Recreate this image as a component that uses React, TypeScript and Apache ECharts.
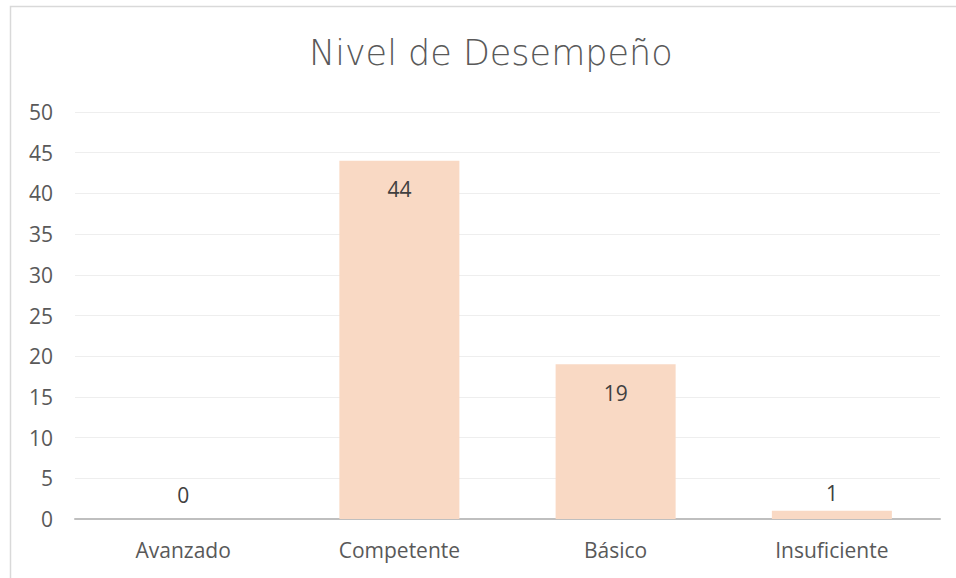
import React, { useEffect, useRef } from "react";
import * as echarts from "echarts";

const categories = ["Avanzado", "Competente", "Básico", "Insuficiente"];
const values = [0, 44, 19, 1];
const yTicks = { min: 0, max: 50, interval: 5 };

export default function App() {
  const ref = useRef<HTMLDivElement>(null);
  useEffect(() => {
    const chart = echarts.init(ref.current!, null, { renderer: "svg" });
    const font = "'Open Sans', 'Noto Sans', sans-serif";
    chart.setOption({
      animation: false,
      backgroundColor: "#ffffff",
      title: {
        text: "Nivel de Desempeño",
        left: 304,
        top: 30,
        textStyle: { fontFamily: "'DejaVu Sans', sans-serif", fontSize: 35, fontWeight: 200, color: "#595959" },
      },
      graphic: [
        {
          type: "rect",
          shape: { x: 10.5, y: 6.5, width: 1000, height: 700 },
          style: { fill: "none", stroke: "#D9D9D9", lineWidth: 1.5 },
          silent: true,
        },
      ],
      grid: { left: 75, right: 16, top: 112, bottom: 59 },
      xAxis: {
        type: "category",
        data: categories,
        axisTick: { show: false },
        axisLine: { lineStyle: { color: "#BFBFBF", width: 2 } },
        axisLabel: { fontFamily: font, fontSize: 21, color: "#595959", margin: 20 },
      },
      yAxis: {
        type: "value",
        min: yTicks.min,
        max: yTicks.max,
        interval: yTicks.interval,
        axisLine: { show: false },
        axisTick: { show: false },
        splitLine: { lineStyle: { color: "#EEEEEE", width: 1 } },
        axisLabel: { fontFamily: font, fontSize: 21, color: "#595959", margin: 22 },
      },
      series: [
        {
          type: "bar",
          barWidth: "55.5%",
          itemStyle: { color: "#F9D9C4" },
          data: values.map((v) => ({
            value: v,
            label:
              v >= 5
                ? { position: "insideTop", distance: 18 }
                : { position: "top", distance: v === 0 ? 14 : 7 },
          })),
          label: {
            show: true,
            fontFamily: font,
            fontSize: 21,
            color: "#404040",
          },
        },
      ],
    });
    return () => chart.dispose();
  }, []);
  return (
    <div
      ref={ref}
      style={{ position: "absolute", left: 0, top: 0, width: 956, height: 578 }}
    />
  );
}
